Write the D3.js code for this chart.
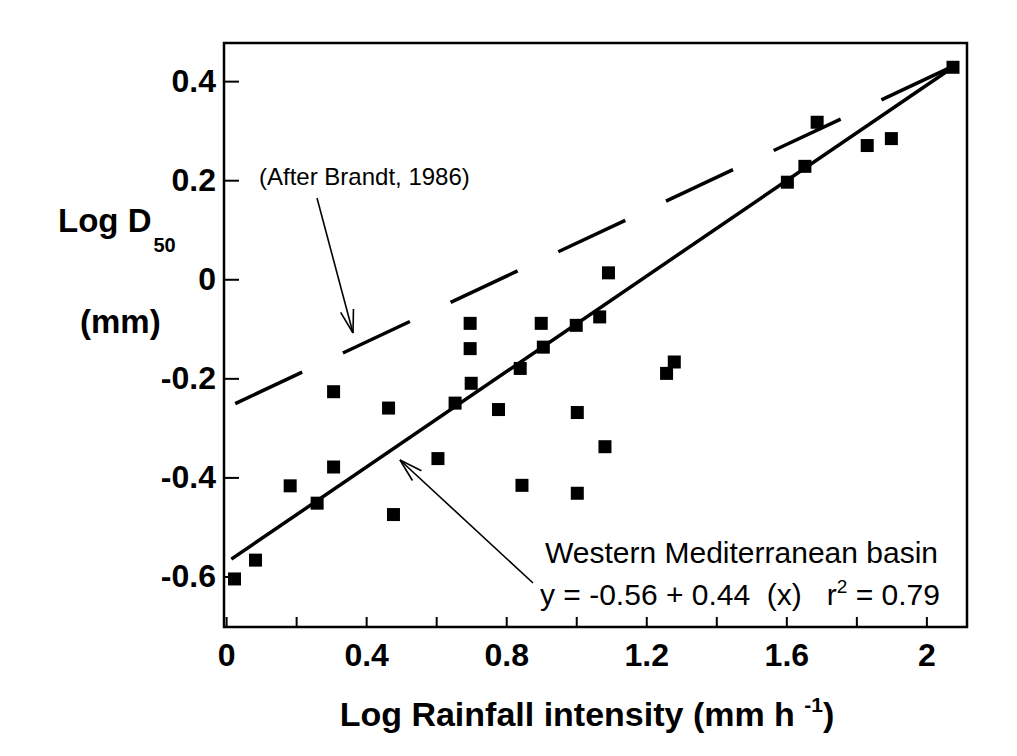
<!DOCTYPE html>
<html><head><meta charset="utf-8">
<script src="https://cdn.jsdelivr.net/npm/d3@7"></script>
<style>
html,body{margin:0;padding:0;background:#fff;}
text{font-family:"Liberation Sans",Arial,sans-serif;fill:#000;}
</style></head>
<body><svg id="chart" width="1017" height="756"></svg>
<script>
// Data
const pointX = [0.024,0.084,0.183,0.26,0.307,0.307,0.464,0.478,0.605,0.654,0.70,0.697,0.697,0.778,0.84,0.845,0.906,0.90,1.003,1.003,1.0,1.067,1.082,1.092,1.258,1.28,1.603,1.653,1.688,1.831,1.90,2.076];
const pointY = [-0.605,-0.567,-0.417,-0.452,-0.379,-0.227,-0.26,-0.475,-0.362,-0.25,-0.21,-0.14,-0.089,-0.263,-0.18,-0.416,-0.137,-0.089,-0.269,-0.432,-0.093,-0.076,-0.338,0.013,-0.19,-0.167,0.196,0.228,0.317,0.27,0.284,0.428];
const fitLineX = [0.015, 2.076];
const fitLineY = [-0.565, 0.428];
const brandtX = [0.026, 2.07];
const brandtY = [-0.251, 0.428];
const xTicks = [0,0.4,0.8,1.2,1.6,2];
const xMinorTicks = [0.2,0.6,1.0,1.4,1.8];
const yTicks = [-0.6,-0.4,-0.2,0,0.2,0.4];
const xTickLabels = ["0","0.4","0.8","1.2","1.6","2"];
const yTickLabels = ["-0.6","-0.4","-0.2","0","0.2","0.4"];

const svg = d3.select("#chart");
const L=224, R=967, T=43, B=627;
const x = d3.scaleLinear().domain([-0.006, 2.116]).range([L, R]);
const y = d3.scaleLinear().domain([-0.702, 0.477]).range([B, T]);

// frame
svg.append("rect").attr("x",L).attr("y",T).attr("width",R-L).attr("height",B-T)
  .attr("fill","none").attr("stroke","#000").attr("stroke-width",2.5);

// y axis (ticks inward)
const yAxis = d3.axisLeft(y).tickValues(yTicks).tickSize(-15).tickPadding(24)
  .tickFormat((d,i)=>yTickLabels[i]);
const gy = svg.append("g").attr("transform",`translate(${L},0)`).call(yAxis);
gy.select(".domain").remove();
gy.selectAll("line").attr("stroke","#000").attr("stroke-width",2);
gy.selectAll("text").attr("font-size",32).attr("font-weight","bold")
  .attr("font-family","Liberation Sans, Arial, sans-serif").attr("x",-8);

// x axis (ticks inward)
const xAxis = d3.axisBottom(x).tickValues(xTicks.concat(xMinorTicks)).tickSize(-10).tickPadding(16)
  .tickFormat(d=>{const i=xTicks.indexOf(d);return i>=0?xTickLabels[i]:"";});
const gx = svg.append("g").attr("transform",`translate(0,${B})`).call(xAxis);
gx.select(".domain").remove();
gx.selectAll("line").attr("stroke","#000").attr("stroke-width",2);
gx.selectAll("text").attr("font-size",32).attr("font-weight","bold")
  .attr("font-family","Liberation Sans, Arial, sans-serif");

// Brandt dashed line
const line = d3.line().x(d=>x(d[0])).y(d=>y(d[1]));
svg.append("path").datum(brandtX.map((v,i)=>[v,brandtY[i]])).attr("d",line)
  .attr("fill","none").attr("stroke","#000").attr("stroke-width",3.5)
  .attr("stroke-dasharray","74,45");

// regression line
svg.append("path").datum(fitLineX.map((v,i)=>[v,fitLineY[i]])).attr("d",line)
  .attr("fill","none").attr("stroke","#000").attr("stroke-width",3.5);

// points
const sz=13;
svg.append("g").selectAll("rect").data(pointX.map((v,i)=>[v,pointY[i]])).join("rect")
  .attr("x",d=>x(d[0])-sz/2).attr("y",d=>y(d[1])-sz/2)
  .attr("width",sz).attr("height",sz).attr("fill","#000");

// arrows
function arrow(x1,y1,x2,y2){
  svg.append("line").attr("x1",x1).attr("y1",y1).attr("x2",x2).attr("y2",y2)
    .attr("stroke","#000").attr("stroke-width",1.6);
  const a=Math.atan2(y2-y1,x2-x1), len=24, sp=0.28;
  [a+Math.PI-sp, a+Math.PI+sp].forEach(b=>{
    svg.append("line").attr("x1",x2).attr("y1",y2)
      .attr("x2",x2+len*Math.cos(b)).attr("y2",y2+len*Math.sin(b))
      .attr("stroke","#000").attr("stroke-width",1.6);
  });
}
arrow(317,198,353,333);
arrow(533,583,400,460);

// annotations
svg.append("text").attr("x",259).attr("y",185).attr("font-size",24).text("(After Brandt, 1986)");
svg.append("text").attr("x",545).attr("y",563).attr("font-size",30).text("Western Mediterranean basin");
const eq = svg.append("text").attr("x",540).attr("y",605).attr("font-size",30).style("white-space","pre");
eq.append("tspan").text("y = -0.56 + 0.44  (x)   r");
eq.append("tspan").attr("font-size",19).attr("dy",-12).text("2");
eq.append("tspan").attr("dy",12).text(" = 0.79");

// axis titles
const yt = svg.append("text").attr("x",58).attr("y",232).attr("font-size",33).attr("font-weight","bold");
yt.append("tspan").text("Log D");
yt.append("tspan").attr("font-size",20).attr("dy",20).attr("dx",2).text("50");
svg.append("text").attr("x",80).attr("y",333).attr("font-size",33).attr("font-weight","bold").text("(mm)");

const xt = svg.append("text").attr("x",587).attr("y",726).attr("text-anchor","middle")
  .attr("font-size",34).attr("font-weight","bold").style("white-space","pre");
xt.append("tspan").text("Log Rainfall intensity (mm h ");
xt.append("tspan").attr("font-size",21).attr("dy",-14).text("-1");
xt.append("tspan").attr("dy",14).text(")");
</script></body></html>
